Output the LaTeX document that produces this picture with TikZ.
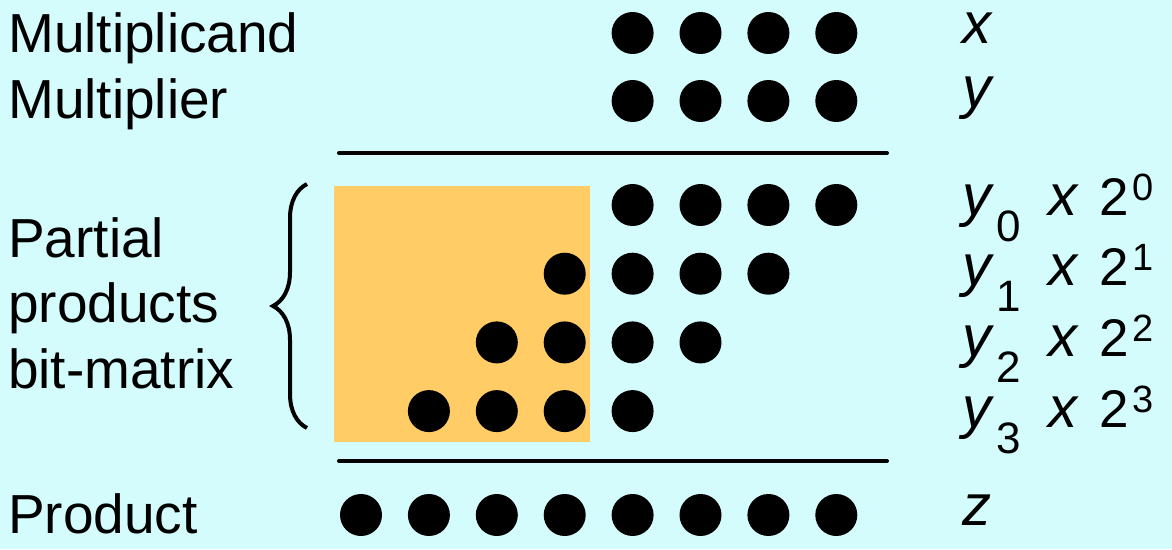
\documentclass[tikz,border=0pt]{standalone}
\usepackage{fontspec}
\setmainfont{Liberation Sans}
\usetikzlibrary{decorations.pathreplacing}
\definecolor{slidecyan}{RGB}{212,252,252}
\definecolor{shadeorange}{RGB}{255,204,102}
\newcommand{\bigtxt}{\fontsize{55}{66}\selectfont}
\newcommand{\vartxt}{\fontsize{58}{66}\selectfont\itshape}
\newcommand{\subtxt}{\fontsize{44}{50}\selectfont}
\newcommand{\twotxt}{\fontsize{53}{60}\selectfont}
\newcommand{\suptxt}{\fontsize{38}{44}\selectfont}
\tikzset{label/.style={anchor=base west,inner sep=0pt,font=\bigtxt},var/.style={label,font=\vartxt,text height=0.55em,text depth=0.2em},bit/.style={circle,fill=black,minimum size=42pt,inner sep=0pt},rule/.style={line width=4pt,line cap=round}}

\begin{document}
\begin{tikzpicture}[x=1pt,y=-1pt]
\fill[slidecyan] (0,0) rectangle (1172,549);
\useasboundingbox (0,0) rectangle (1172,549);
\fill[shadeorange] (334,186) rectangle (590,442);
% row labels
\node[label] (mcand) at (8,52) {Multiplicand};
\node[label] (mplier) at (8,118) {Multiplier};
\node[label] (part) at (8,257) {Partial};
\node[label] (prods) at (8,322) {products};
\node[label] (bitmat) at (8,388) {bit-matrix};
\node[label] (prod) at (8,533) {Product};
\node[var] (xname) at (962,43) {x};
\node[var] (yname) at (962,107) {y};
\node[var] (zname) at (962,525) {z};
% operand and product dots
\foreach \k in {4,...,7} {
  \node[bit] (xb\k) at (361+67.9*\k,33) {};
  \node[bit] (yb\k) at (361+67.9*\k,101) {};
}
\foreach \k in {0,...,7}
  \node[bit] (zb\k) at (361+67.9*\k,515) {};
% partial products
\foreach \r in {0,...,3} {
  \pgfmathtruncatemacro{\lo}{4-\r}
  \pgfmathtruncatemacro{\hi}{7-\r}
  \foreach \k in {\lo,...,\hi}
    \node[bit] (pp\r\k) at (361+67.9*\k,205+68.7*\r) {};
  \node[var] (ylab\r) at (962,215+70.7*\r) {y};
  \node[label,font=\subtxt] (ysub\r) at (996,241+70.7*\r) {\r};
  \node[var] (xlab\r) at (1048,215+70.7*\r) {x};
  \node[label,font=\twotxt] (two\r) at (1099,215+70.7*\r) {2};
  \node[label,font=\suptxt] (pow\r) at (1132,200+70.7*\r) {\r};
}
\draw[rule] (339,153) -- (887,153);
\draw[rule] (339,461) -- (887,461);
\coordinate (brbot) at (307,428);
\coordinate (brtop) at (307,184);
\draw[line width=4pt,decorate,decoration={brace,amplitude=34pt}] (brbot) -- (brtop);
\end{tikzpicture}
\end{document}
